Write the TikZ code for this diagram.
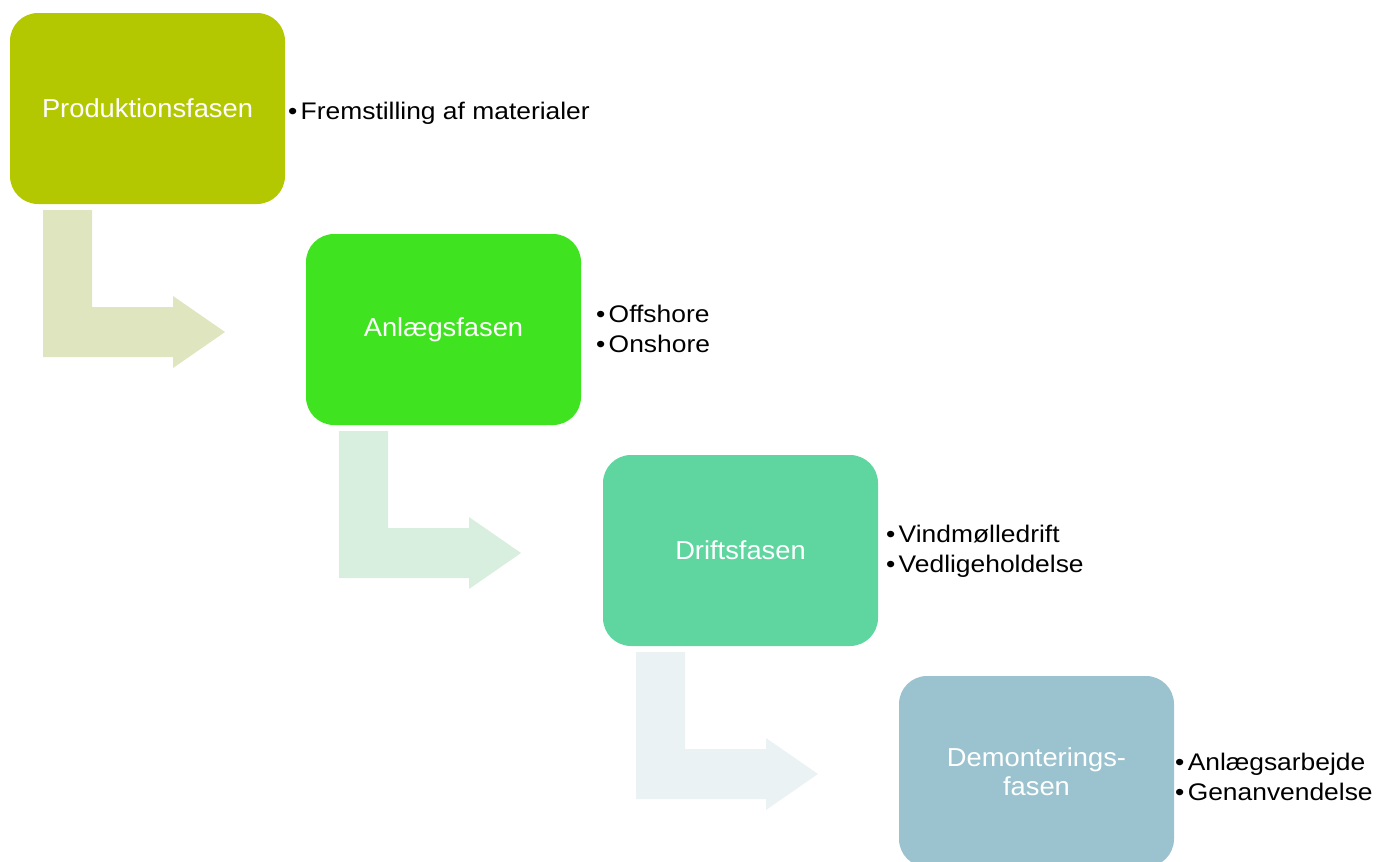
\documentclass[tikz,border=0pt]{standalone}
\usepackage{fontspec}
\usepackage{graphicx}
\setmainfont{Liberation Sans}
\definecolor{cA}{HTML}{B3C800}
\definecolor{cB}{HTML}{40E31F}
\definecolor{cC}{HTML}{5FD59F}
\definecolor{cD}{HTML}{9AC3CF}
\definecolor{aA}{HTML}{DEE5BF}
\definecolor{aB}{HTML}{D8EEDF}
\definecolor{aC}{HTML}{EBF2F4}
\newcommand\hsA[1]{\scalebox{1.05}[1]{#1}}
\newcommand\hsB[1]{\scalebox{1.1}[1]{#1}}
\tikzset{
  phasebox/.style={rectangle, rounded corners=28pt, minimum width=275pt, minimum height=191pt,
    inner sep=0pt, text=white, font=\fontsize{26}{29}\selectfont, align=center},
  bul/.style={anchor=base west, inner sep=0pt, text=black, font=\fontsize{24}{28}\selectfont}
}
\begin{document}
\begin{tikzpicture}[x=1pt,y=-1pt]
\useasboundingbox (0,0) rectangle (1377,862);
\clip (0,0) rectangle (1377,862);
% bent arrows
\foreach \dx/\dy/\c in {0/0/aA, 296/221/aB, 593/442/aC}{
  \fill[\c, shift={(\dx,\dy)}] (43,210) -- (92,210) -- (92,307) -- (173,307) -- (173,296) -- (225,332)
     -- (173,368) -- (173,357) -- (43,357) -- cycle;
}
% boxes
\node[phasebox, fill=cA] (p1) at (147.5,108.5) {\hsA{Produktionsfasen}};
\node[phasebox, fill=cB] (p2) at (443.5,329.5) {\hsA{Anlægsfasen}};
\node[phasebox, fill=cC] (p3) at (740.5,550.5) {\hsA{Driftsfasen}};
\node[phasebox, fill=cD] (p4) at (1036.5,771.5) {\hsA{Demonterings-}\\\hsA{fasen}};
% bullets
\node[bul] (b1) at (288,119) {\hsB{•\hspace{3pt}Fremstilling af materialer}};
\node[bul] (b2a) at (596,322) {\hsB{•\hspace{3pt}Offshore}};
\node[bul] (b2b) at (596,352) {\hsB{•\hspace{3pt}Onshore}};
\node[bul] (b3a) at (886,542) {\hsB{•\hspace{3pt}Vindmølledrift}};
\node[bul] (b3b) at (886,572) {\hsB{•\hspace{3pt}Vedligeholdelse}};
\node[bul] (b4a) at (1175,770) {\hsB{•\hspace{3pt}Anlægsarbejde}};
\node[bul] (b4b) at (1175,800) {\hsB{•\hspace{3pt}Genanvendelse}};
\end{tikzpicture}
\end{document}
